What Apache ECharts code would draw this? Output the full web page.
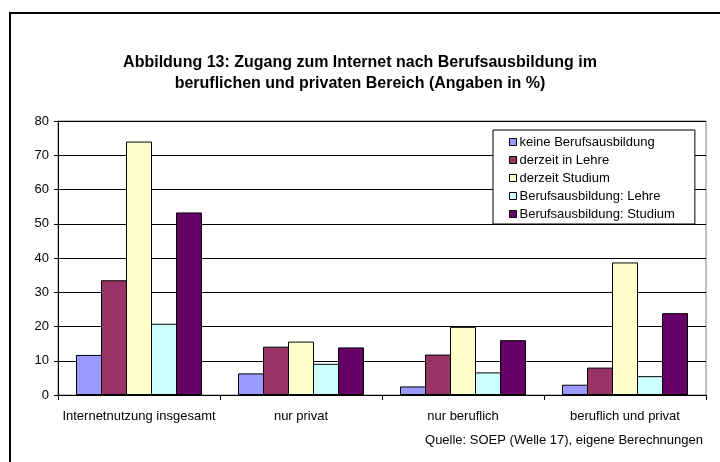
<!DOCTYPE html>
<html>
<head>
<meta charset="utf-8">
<script src="https://cdn.jsdelivr.net/npm/echarts@6/dist/echarts.min.js"></script>
<style>
html,body{margin:0;padding:0;background:#fff;}
#chart{width:720px;height:462px;}
</style>
</head>
<body>
<div id="chart"></div>
<script>
const categories = ['Internetnutzung insgesamt', 'nur privat', 'nur beruflich', 'beruflich und privat'];
const seriesNames = ['keine Berufsausbildung', 'derzeit in Lehre', 'derzeit Studium', 'Berufsausbildung: Lehre', 'Berufsausbildung: Studium'];
const keineBerufsausbildung = [11.7, 6.3, 2.5, 3.0];
const derzeitInLehre = [33.5, 14.1, 11.8, 8.0];
const derzeitStudium = [74.0, 15.6, 19.9, 38.7];
const berufsausbildungLehre = [20.8, 9.1, 6.6, 5.5];
const berufsausbildungStudium = [53.3, 13.9, 16.0, 23.9];
const colors = ['#9999FF', '#993366', '#FFFFCC', '#CCFFFF', '#660066'];
const yTicks = [0, 10, 20, 30, 40, 50, 60, 70, 80];

const values = [keineBerufsausbildung, derzeitInLehre, derzeitStudium, berufsausbildungLehre, berufsausbildungStudium];
const FONT = 'Arial, "Liberation Sans", sans-serif';
const BAR_W = 26;

const chart = echarts.init(document.getElementById('chart'));
chart.setOption({
  animation: false,
  backgroundColor: '#fff',
  textStyle: { fontFamily: FONT },
  title: {
    text: 'Abbildung 13: Zugang zum Internet nach Berufsausbildung im\nberuflichen und privaten Bereich (Angaben in %)',
    left: 'center',
    top: 47,
    textStyle: { fontFamily: FONT, fontSize: 16, fontWeight: 'bold', color: '#000', lineHeight: 21 }
  },
  legend: {
    orient: 'vertical',
    left: 493,
    top: 130,
    padding: [5, 20, 3, 16],
    itemWidth: 7,
    itemHeight: 7,
    itemGap: 4,
    backgroundColor: '#fff',
    borderColor: '#000',
    borderWidth: 1,
    borderRadius: 0,
    icon: 'rect',
    itemStyle: { borderColor: '#000', borderWidth: 1 },
    textStyle: { fontFamily: FONT, fontSize: 13, color: '#000', lineHeight: 14, padding: [0, 0, 0, -2] },
    data: seriesNames
  },
  grid: {
    left: 58, right: 14, top: 121, bottom: 67,
    show: true, borderColor: '#808080', borderWidth: 1, backgroundColor: 'transparent',
    containLabel: false
  },
  xAxis: {
    type: 'category',
    data: categories,
    axisLine: { show: true, lineStyle: { color: '#000', width: 1 } },
    axisTick: { show: true, alignWithLabel: false, length: 5, lineStyle: { color: '#000' } },
    axisLabel: { fontFamily: FONT, fontSize: 13, color: '#000', margin: 15, interval: 0 },
    splitLine: { show: false }
  },
  yAxis: {
    type: 'value',
    min: yTicks[0],
    max: yTicks[yTicks.length - 1],
    interval: 10,
    axisLine: { show: true, lineStyle: { color: '#000', width: 1 } },
    axisTick: { show: true, inside: false, length: 4, lineStyle: { color: '#000' } },
    axisLabel: { fontFamily: FONT, fontSize: 13, color: '#000', margin: 9 },
    splitLine: { show: true, lineStyle: { color: '#000', width: 1 } }
  },
  series: seriesNames.map((name, i) => ({
    name: name,
    type: 'bar',
    data: values[i],
    barGap: (-100 / BAR_W) + '%',
    barWidth: BAR_W,
    itemStyle: { color: colors[i], borderColor: '#000', borderWidth: 1 }
  })),
  graphic: [
    {
      type: 'rect',
      shape: { x: 10, y: 13, width: 730, height: 470 },
      style: { fill: 'none', stroke: '#000', lineWidth: 2 },
      silent: true
    },
    {
      type: 'text',
      x: 703,
      y: 440,
      style: {
        text: 'Quelle: SOEP (Welle 17), eigene Berechnungen',
        fontFamily: FONT, fontSize: 13, fill: '#000',
        textAlign: 'right', textVerticalAlign: 'middle'
      },
      silent: true
    }
  ]
});
</script>
</body>
</html>
